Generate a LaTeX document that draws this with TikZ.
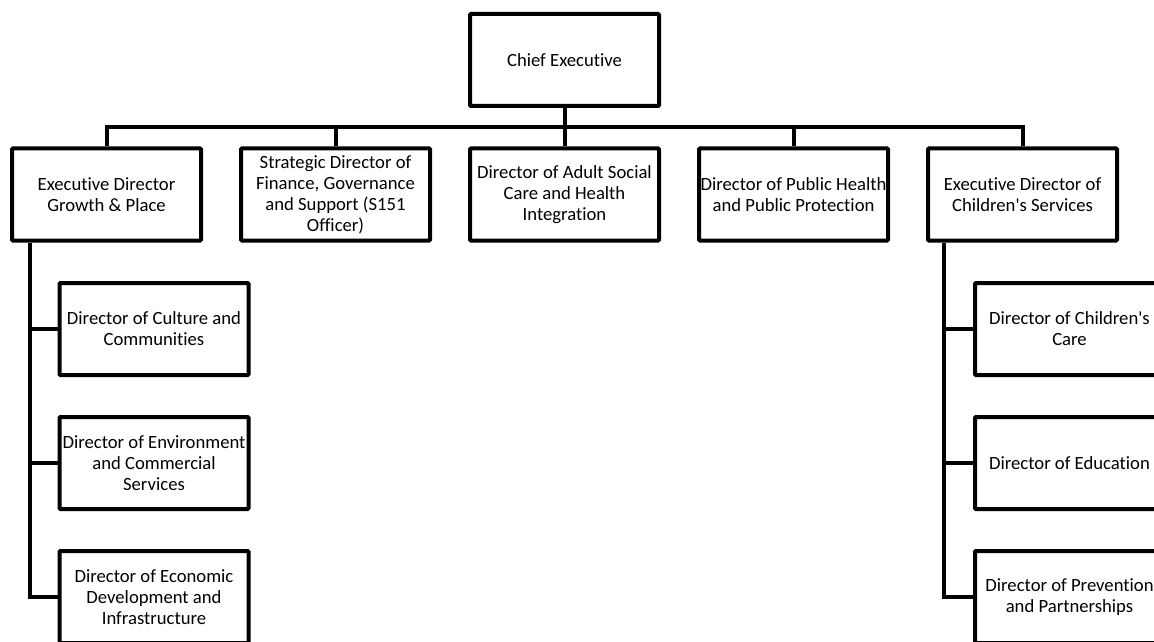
\documentclass[tikz,border=0pt]{standalone}
\usepackage{fontspec}
\setmainfont{Carlito}[Ligatures=NoCommon]
\begin{document}
\begin{tikzpicture}
[
x=0.75pt, y=-0.75pt,
box1/.style={rectangle, draw=black, fill=white, line width=3pt, rounded corners=0.75pt,
      minimum width=141.75pt, minimum height=69pt, inner sep=0pt,
      align=center, font=\fontsize{14}{15.7}\selectfont},
conn/.style={draw=black, line width=3pt},
]
\useasboundingbox (0,0) rectangle (1154,642);
\clip (0,0) rectangle (1154,642);

\node at (564.5,60) [box1] (chief) {Chief Executive};

\node at (106.5,194.5) [box1] (gp) {Executive Director\\Growth \& Place};
\node at (335.5,194.5) [box1] (fin) {Strategic Director of\\Finance, Governance\\and Support (S151\\Officer)};
\node at (564.5,194.5) [box1] (asc) {Director of Adult Social\\Care and Health\\Integration};
\node at (793.5,194.5) [box1] (ph) {Director of Public Health\\and Public Protection};
\node at (1022.5,194.5) [box1] (cs) {Executive Director of\\Children\textquotesingle s Services};

\node at (154,329) [box1] (cul) {Director of Culture and\\Communities};
\node at (154,463) [box1] (env) {Director of Environment\\and Commercial\\Services};
\node at (154,597) [box1] (eco) {Director of Economic\\Development and\\Infrastructure};

\node at (1069.5,329) [box1] (cc) {Director of Children\textquotesingle s\\Care};
\node at (1069.5,463) [box1] (edu) {Director of Education};
\node at (1069.5,597) [box1] (pp) {Director of Prevention\\and Partnerships};

\coordinate (bus) at (564.5,127);
\coordinate (gpv) at ([xshift=15pt]gp.south west);
\coordinate (csv) at ([xshift=13.5pt]cs.south west);

\draw[conn] (chief.south) -- (asc.north);
\draw[conn] (gp.north) |- (bus) -| (cs.north);
\draw[conn] (fin.north) -- (fin.north |- bus);
\draw[conn] (ph.north) -- (ph.north |- bus);

\draw[conn] (gpv) |- (eco.west);
\draw[conn] (gpv |- cul.west) -- (cul.west);
\draw[conn] (gpv |- env.west) -- (env.west);

\draw[conn] (csv) |- (pp.west);
\draw[conn] (csv |- cc.west) -- (cc.west);
\draw[conn] (csv |- edu.west) -- (edu.west);

\end{tikzpicture}
\end{document}
